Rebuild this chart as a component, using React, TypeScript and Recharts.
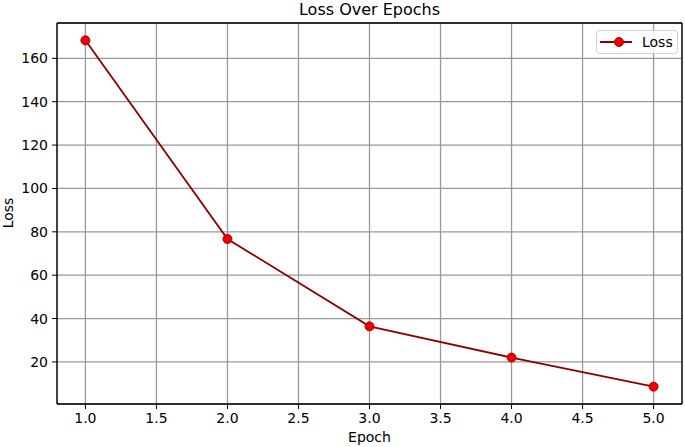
import { LineChart, Line, XAxis, YAxis, CartesianGrid, ReferenceLine } from 'recharts'

const epochs = [1, 2, 3, 4, 5]
const lossValues = [168.3, 76.7, 36.4, 22.0, 8.6]
const xTicks = [1, 1.5, 2, 2.5, 3, 3.5, 4, 4.5, 5]
const yTicks = [20, 40, 60, 80, 100, 120, 140, 160]

const data = epochs.map((e, i) => ({ epoch: e, loss: lossValues[i] }))

const X_DOMAIN: [number, number] = [0.8, 5.2]
const Y_DOMAIN: [number, number] = [0.6, 176.3]

function LossLegend() {
  return (
    <div
      style={{
        position: 'absolute',
        left: 596,
        top: 30,
        width: 82,
        height: 24,
        boxSizing: 'border-box',
        display: 'flex',
        alignItems: 'center',
        border: '1px solid #d0d0d0',
        borderRadius: 4,
        background: 'rgba(255,255,255,0.8)',
        padding: '0 0 0 2px',
        fontSize: 14,
        color: '#000',
        zIndex: 2,
      }}
    >
      <svg width={34} height={14} style={{ marginRight: 9 }}>
        <line x1={1} y1={7} x2={33} y2={7} stroke="#8b0000" strokeWidth={2} />
        <circle cx={20} cy={7} r={4.5} fill="#ee0000" stroke="#b00000" strokeWidth={1} />
      </svg>
      <span>Loss</span>
    </div>
  )
}

export default function App() {
  return (
    <div
      style={{
        position: 'absolute',
        left: 0,
        top: 0,
        width: 685,
        height: 447,
        fontFamily: '"DejaVu Sans", sans-serif',
        background: '#fff',
      }}
    >
      <div style={{ position: 'absolute', left: 57, width: 625, top: 0, textAlign: 'center', fontSize: 16 }}>
        Loss Over Epochs
      </div>
      <div
        style={{
          position: 'absolute',
          left: 8,
          top: 213,
          fontSize: 14,
          transform: 'translate(-50%, -50%) rotate(-90deg)',
        }}
      >
        Loss
      </div>
      <div style={{ position: 'absolute', left: 57, width: 625, top: 429, textAlign: 'center', fontSize: 14 }}>
        Epoch
      </div>
      <LossLegend />
      <LineChart width={685} height={447} data={data} margin={{ top: 23, right: 3, left: 0, bottom: 0 }}>
        <CartesianGrid stroke="#999" strokeWidth={1.3} />
        <XAxis
          dataKey="epoch"
          type="number"
          domain={X_DOMAIN}
          allowDataOverflow
          ticks={xTicks}
          tickFormatter={(v: number) => v.toFixed(1)}
          height={43}
          tickSize={5}
          tickMargin={4}
          tick={{ fontSize: 14, fill: '#000' }}
          stroke="#000"
          axisLine={{ stroke: '#000', strokeWidth: 1.3 }}
        />
        <YAxis
          type="number"
          domain={Y_DOMAIN}
          allowDataOverflow
          ticks={yTicks}
          width={57}
          tickSize={5}
          tickMargin={4}
          tick={{ fontSize: 14, fill: '#000' }}
          stroke="#000"
          axisLine={{ stroke: '#000', strokeWidth: 1.3 }}
        />
        <ReferenceLine y={Y_DOMAIN[1]} stroke="#000" strokeWidth={1.3} />
        <ReferenceLine x={X_DOMAIN[1]} stroke="#000" strokeWidth={1.3} />
        <Line
          type="linear"
          dataKey="loss"
          stroke="#8b0000"
          strokeWidth={1.8}
          dot={{ r: 4.5, fill: '#ee0000', stroke: '#b00000', strokeWidth: 1 }}
          isAnimationActive={false}
        />
      </LineChart>
    </div>
  )
}
